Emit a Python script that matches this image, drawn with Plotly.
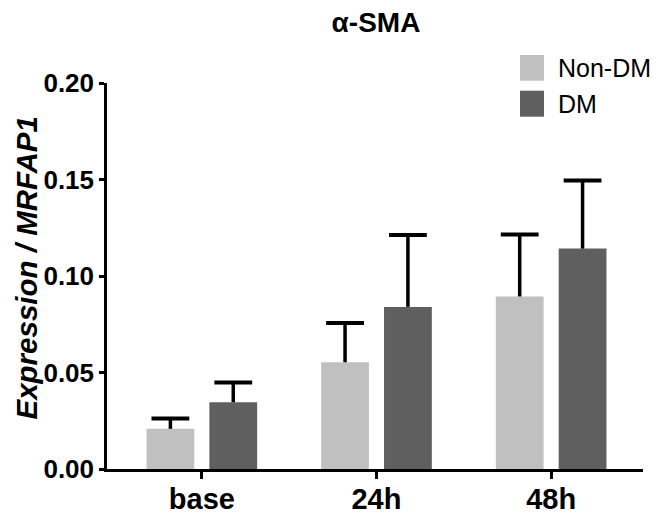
import plotly.graph_objects as go

categories = ["base", "24h", "48h"]
non_dm = [0.0208, 0.0553, 0.0894]
non_dm_err = [0.0054, 0.0204, 0.0321]
dm = [0.0346, 0.0840, 0.1142]
dm_err = [0.0102, 0.0373, 0.0353]
y_ticks = [0.00, 0.05, 0.10, 0.15, 0.20]
y_tick_labels = ["0.00", "0.05", "0.10", "0.15", "0.20"]
series_names = ["Non-DM", "DM"]
series_colors = ["#C0C0C0", "#5F5F5F"]

FONT = "Liberation Sans, Arial, sans-serif"

# the page body has an 8px margin, so the figure is laid out 8px smaller
W, H = 653, 508
plot_l, plot_r, plot_t, plot_b = 99, 635, 75, 461

fig = go.Figure()
series = [(non_dm, non_dm_err), (dm, dm_err)]
for name, color, (vals, errs) in zip(series_names, series_colors, series):
    fig.add_trace(go.Bar(
        name=name, x=categories, y=vals, offsetgroup=name,
        marker=dict(color=color, line=dict(width=0)),
        showlegend=False,
    ))
for name, (vals, errs) in zip(series_names, series):
    tops = [v + e for v, e in zip(vals, errs)]
    fig.add_trace(go.Scatter(
        name=name + " SD", x=categories, y=tops, offsetgroup=name,
        mode="markers",
        marker=dict(symbol="line-ew", size=27, color="black",
                    line=dict(color="black", width=4)),
        error_y=dict(type="data", symmetric=False, array=[0] * len(errs),
                     arrayminus=errs, color="black", thickness=3.5, width=0),
        showlegend=False, hoverinfo="skip",
    ))

def px_x(p):
    return (p - plot_l) / (plot_r - plot_l)
def px_y(p):
    return (plot_b - p) / (plot_b - plot_t)

# legend (drawn to match the large square swatches of the original)
legend_rows = [(47, 72.7), (82.7, 108.7)]
for name, color, (top, bot) in zip(series_names, series_colors, legend_rows):
    fig.add_shape(type="rect", xref="paper", yref="paper",
                  x0=px_x(512), x1=px_x(536), y0=px_y(bot), y1=px_y(top),
                  fillcolor=color, line=dict(width=0))
    fig.add_annotation(text=name, xref="paper", yref="paper",
                       x=px_x(548), y=px_y((top + bot) / 2),
                       xanchor="left", yanchor="middle", showarrow=False,
                       font=dict(size=25, family=FONT, color="black"))

# y-axis title
fig.add_annotation(text="<b><i>Expression / MRFAP1</i></b>", xref="paper", yref="paper",
                   x=px_x(18), y=px_y(260.5), xanchor="center", yanchor="middle",
                   textangle=-90, showarrow=False,
                   font=dict(size=29.5, family=FONT, color="black"))

fig.update_layout(
    width=W, height=H,
    margin=dict(l=plot_l, r=W - plot_r, t=plot_t, b=H - plot_b),
    paper_bgcolor="white", plot_bgcolor="white",
    barmode="group", bargap=0.28, bargroupgap=0.24,
    scattermode="group", scattergap=0.28,
    font=dict(family=FONT, color="black"),
    title=dict(text="<b>α-SMA</b>", x=368 / W, xanchor="center", y=1 - 4.5 / H, yanchor="top",
               font=dict(size=28, family=FONT, color="black")),
    showlegend=False,
)
fig.update_xaxes(
    range=[-0.543, 2.526], showline=True, linecolor="black", linewidth=2.5,
    ticks="outside", ticklen=7, tickwidth=2.5, tickcolor="black",
    tickfont=dict(size=29, family=FONT, color="black"),
    tickprefix="<b>", ticksuffix="</b>", ticklabelstandoff=-5,
    showgrid=False, zeroline=False, automargin=False,
)
fig.update_yaxes(
    range=[0, 0.2], tickvals=y_ticks, ticktext=["<b>%s</b>" % t for t in y_tick_labels],
    showline=True, linecolor="black", linewidth=2.5,
    ticks="outside", ticklen=5, tickwidth=2.5, tickcolor="black",
    tickfont=dict(size=26, family=FONT, color="black"),
    showgrid=False, zeroline=False, automargin=False,
)

fig.write_html("out.html")
